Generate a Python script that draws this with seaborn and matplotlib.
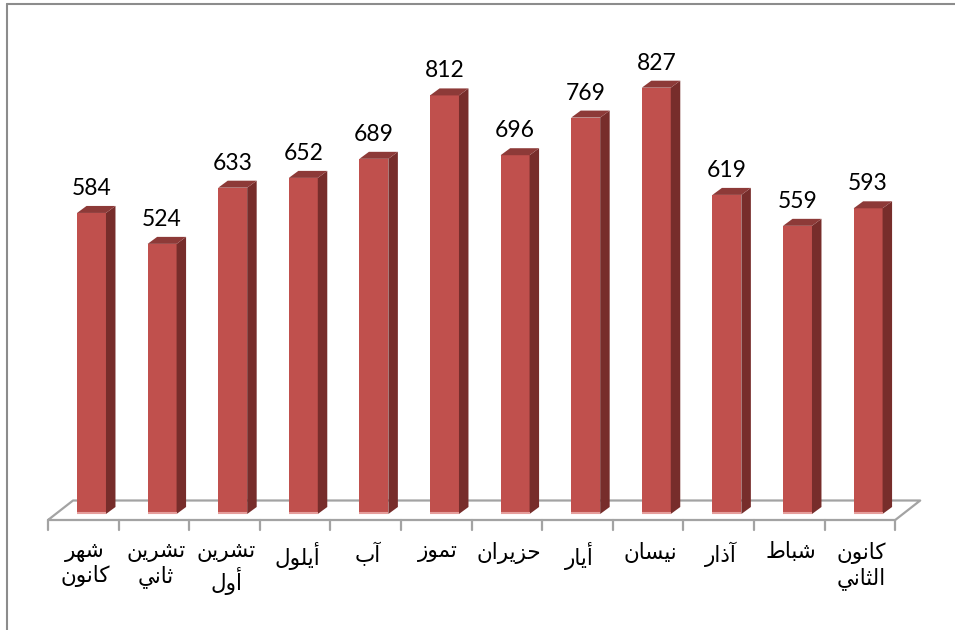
import numpy as np
import pandas as pd
import matplotlib
matplotlib.use('Agg')
import matplotlib.pyplot as plt
from matplotlib.patches import Polygon
from matplotlib.lines import Line2D
import seaborn as sns

# data, right-to-left order as shown in the picture (left -> right on screen)
months = ['شهر كانون', 'تشرين ثاني', 'تشرين أول', 'أيلول', 'آب', 'تموز',
          'حزيران', 'أيار', 'نيسان', 'آذار', 'شباط', 'كانون الثاني']
counts = [584, 524, 633, 652, 689, 812, 696, 769, 827, 619, 559, 593]

FRONT = '#C0504D'
SIDE = '#772D2B'
TOP = '#8D3A38'
FLOOR = '#A3A3A3'

# Arabic presentation forms (isolated code, number of forms)
FORMS = {
    'ا': (0xFE8D, 2), 'أ': (0xFE83, 2), 'آ': (0xFE81, 2), 'ذ': (0xFEAB, 2),
    'ر': (0xFEAD, 2), 'ز': (0xFEAF, 2), 'و': (0xFEED, 2),
    'ب': (0xFE8F, 4), 'ت': (0xFE95, 4), 'ث': (0xFE99, 4), 'ح': (0xFEA1, 4),
    'س': (0xFEB1, 4), 'ش': (0xFEB5, 4), 'ط': (0xFEC1, 4), 'ك': (0xFED9, 4),
    'ل': (0xFEDD, 4), 'م': (0xFEE1, 4), 'ن': (0xFEE5, 4), 'ه': (0xFEE9, 4),
    'ي': (0xFEF1, 4),
}


def shape(word):
    # matplotlib has no arabic shaping, so join letters by hand and reverse
    out = []
    for i, ch in enumerate(word):
        if ch not in FORMS:
            out.append(ch)
            continue
        base, n = FORMS[ch]
        prev = word[i - 1] if i > 0 else ''
        nxt = word[i + 1] if i + 1 < len(word) else ''
        jp = prev in FORMS and FORMS[prev][1] == 4
        jn = n == 4 and nxt in FORMS
        if jp and jn:
            code = base + 3
        elif jp:
            code = base + 1
        elif jn:
            code = base + 2
        else:
            code = base
        out.append(chr(code))
    return ''.join(reversed(out))


sns.set_theme(style='white')
plt.rcParams['font.family'] = ['DejaVu Sans']

W, H = 955, 630
fig = plt.figure(figsize=(W / 100, H / 100), dpi=100)
ax = fig.add_axes([0, 0, 1, 1])

# pixel mapping of the original picture
px_per_cat = 70.6
x0_px = 91.5
y0_px = 514
px_per_unit = 0.5155

df = pd.DataFrame({'month': months, 'count': counts})
sns.barplot(data=df, x='month', y='count', order=months, color=FRONT,
            saturation=1, width=0.41, ax=ax, zorder=3, linewidth=0)

ddx = 9.5 / px_per_cat
ddy = 7 / px_per_unit
for p in ax.patches:
    x, w, h = p.get_x(), p.get_width(), p.get_height()
    side = [(x + w, 0), (x + w + ddx, ddy), (x + w + ddx, h + ddy), (x + w, h)]
    top = [(x, h), (x + w, h), (x + w + ddx, h + ddy), (x + ddx, h + ddy)]
    ax.add_patch(Polygon(side, closed=True, facecolor=SIDE, edgecolor='none', zorder=3))
    ax.add_patch(Polygon(top, closed=True, facecolor=TOP, edgecolor='none', zorder=3))
    ax.plot([x, x + w], [1, 1], color='#E59E9C', lw=1.5, zorder=4,
            solid_capstyle='butt')
    ax.annotate(f'{int(round(h))}', xy=(x + w / 2, h + ddy), xytext=(0, 5),
                textcoords='offset points', ha='center', va='bottom',
                fontsize=16.5, family=['Lato', 'DejaVu Sans'], color='black')

# floor of the 3d chart
n = len(months)
y_front = (y0_px - 520) / px_per_unit
y_back = (y0_px - 500.5) / px_per_unit
fl = -0.5 - 0.116
back_shift = 25 / px_per_cat
floor_x = [fl, fl + n, fl + n + back_shift, fl + back_shift, fl]
floor_y = [y_front, y_front, y_back, y_back, y_front]
ax.plot(floor_x, floor_y, color=FLOOR, lw=1.6, zorder=1)
for k in range(n + 1):
    ax.plot([fl + k, fl + k], [y_front, y_front - 10 / px_per_unit],
            color=FLOOR, lw=1.6, zorder=1)

# category labels
for i, m in enumerate(months):
    lines = [shape(wd) for wd in m.split(' ')]
    ax.text(i - 0.09, (y0_px - 542) / px_per_unit, '\n'.join(lines),
            ha='center', va='top', multialignment='center', fontsize=15.5,
            linespacing=1.2, color='black')

ax.set_xlim(-x0_px / px_per_cat, (W - x0_px) / px_per_cat)
ax.set_ylim((y0_px - H) / px_per_unit, y0_px / px_per_unit)
ax.axis('off')

# chart area border (only top and left visible)
fig.add_artist(Line2D([6.5 / W, 1], [1 - 3.5 / H, 1 - 3.5 / H],
                      color='#8C8C8C', lw=1.5, transform=fig.transFigure))
fig.add_artist(Line2D([6.5 / W, 6.5 / W], [0, 1 - 3.5 / H],
                      color='#8C8C8C', lw=1.5, transform=fig.transFigure))

fig.savefig('out.png', dpi=100, facecolor='white')
